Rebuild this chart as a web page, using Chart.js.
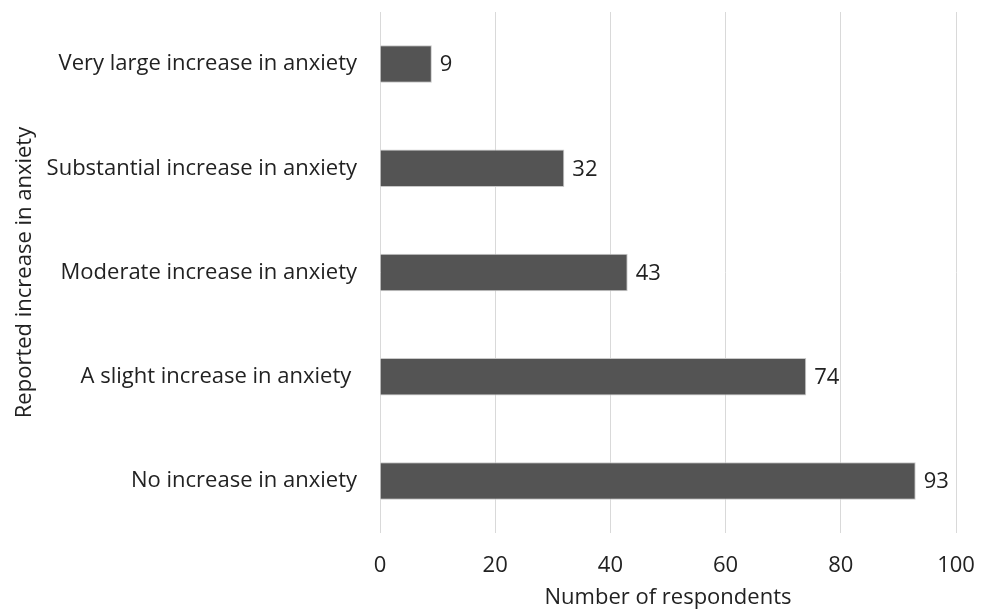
<!DOCTYPE html>
<html>
<head>
<meta charset="utf-8">
<script src="https://cdn.jsdelivr.net/npm/chart.js@4/dist/chart.umd.min.js"></script>
<style>
  html, body { margin: 0; padding: 0; background: #fff; }
  #wrap { width: 987px; height: 611px; position: relative; }
</style>
</head>
<body>
<div id="wrap"><canvas id="c"></canvas></div>
<script>
const categories = [
  'Very large increase in anxiety',
  'Substantial increase in anxiety',
  'Moderate increase in anxiety',
  'A slight increase in anxiety ',
  'No increase in anxiety'
];
const respondents = [9, 32, 43, 74, 93];
const xTicks = [0, 20, 40, 60, 80, 100];

const FONT = "'Open Sans', 'Liberation Sans', sans-serif";
const SIZE = 22;

// Writes each bar's value just past its end
const valueLabels = {
  id: 'valueLabels',
  afterDatasetsDraw(chart) {
    const ctx = chart.ctx;
    const meta = chart.getDatasetMeta(0);
    ctx.save();
    ctx.font = SIZE + 'px ' + FONT;
    ctx.fillStyle = '#222';
    ctx.textAlign = 'left';
    ctx.textBaseline = 'middle';
    meta.data.forEach((bar, i) => {
      ctx.fillText(String(respondents[i]), bar.x + 8, bar.y + 1);
    });
    ctx.restore();
  }
};

new Chart(document.getElementById('c'), {
  type: 'bar',
  data: {
    labels: categories,
    datasets: [{
      data: respondents,
      backgroundColor: '#545454',
      borderColor: '#c9c9c9',
      borderWidth: 1,
      barPercentage: 0.9,
      categoryPercentage: 0.4
    }]
  },
  options: {
    indexAxis: 'y',
    responsive: true,
    maintainAspectRatio: false,
    animation: false,
    layout: { padding: { top: 12, right: 31, left: 0, bottom: 0 } },
    plugins: { legend: { display: false }, tooltip: { enabled: false } },
    scales: {
      x: {
        min: 0, max: 100,
        afterBuildTicks(scale) { scale.ticks = xTicks.map(v => ({ value: v })); },
        afterFit(scale) {
          scale.height = 611 - 533;
          scale.paddingLeft = 0;
          scale.paddingRight = 0;
        },
        grid: { color: '#d9d9d9', lineWidth: 1, drawTicks: false },
        border: { display: false },
        ticks: { color: '#222', font: { family: FONT, size: SIZE }, padding: 20 },
        title: {
          display: true, text: 'Number of respondents', color: '#222',
          font: { family: FONT, size: SIZE }, padding: { top: 2, bottom: 0 }
        }
      },
      y: {
        afterFit(scale) {
          scale.width = 380;
          scale.paddingTop = 0;
          scale.paddingBottom = 0;
        },
        grid: { display: false },
        border: { display: false },
        ticks: { color: '#222', font: { family: FONT, size: SIZE }, padding: 15 },
        title: {
          display: true, text: 'Reported increase in anxiety', color: '#222',
          font: { family: FONT, size: SIZE }, padding: { top: 12, bottom: 0 }
        }
      }
    }
  },
  plugins: [valueLabels]
});
</script>
</body>
</html>
